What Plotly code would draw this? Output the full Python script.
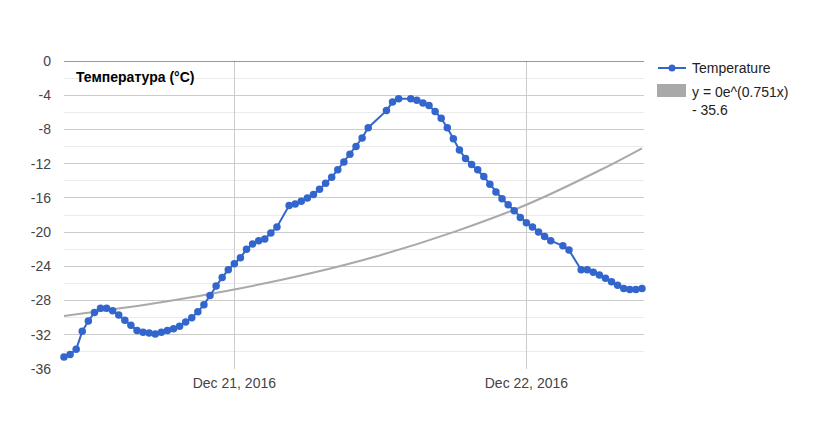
import pandas as pd
import plotly.graph_objects as go

# half-hourly readings, Dec 20 10:00 -> Dec 22 09:30 (None = no reading)
times = pd.date_range("2016-12-20 10:00", periods=96, freq="30min")
temps = [
    -34.6, -34.3, -33.7, -31.6, -30.4, -29.4, -28.9, -28.9, -29.2, -29.7,
    -30.3, -30.9, -31.5, -31.7, -31.8, -31.9, -31.7, -31.5, -31.3, -31.0,
    -30.5, -30.0, -29.3, -28.5, -27.4, -26.3, -25.3, -24.4, -23.7, -23.0,
    -22.0, -21.4, -21.0, -20.8, -20.1, -19.4, None, -16.9, -16.7, -16.4,
    -16.0, -15.6, -15.0, -14.3, -13.6, -12.7, -11.8, -10.9, -10.0, -9.0,
    -7.8, None, None, -5.8, -4.8, -4.4, None, -4.4, -4.6, -4.9,
    -5.2, -5.9, -6.7, -7.8, -9.1, -10.4, -11.4, -12.1, -12.7, -13.5,
    -14.4, -15.3, -16.1, -16.8, -17.5, -18.3, -18.9, -19.4, -20.0, -20.5,
    -21.0, None, -21.6, -22.1, None, -24.4, -24.4, -24.7, -25.0, -25.4,
    -25.8, -26.2, -26.6, -26.7, -26.7, -26.6,
]

# exponential trendline
trend_times = ["2016-12-20 10:00", "2016-12-20 18:00", "2016-12-21 00:00",
               "2016-12-21 06:00", "2016-12-21 12:00", "2016-12-21 18:00",
               "2016-12-22 00:00", "2016-12-22 06:00", "2016-12-22 09:30"]
trend_vals = [-29.8, -28.2, -26.7, -24.9, -22.7, -20.0, -16.8, -12.8, -10.2]

y_ticks = [0, -4, -8, -12, -16, -20, -24, -28, -32, -36]
y_labels = ["0", "-4", "-8", "-12", "-16", "-20", "-24", "-28", "-32", "-36"]
x_ticks = ["2016-12-21", "2016-12-22"]
x_labels = ["Dec 21, 2016", "Dec 22, 2016"]

FONT = "Liberation Sans, Arial, sans-serif"
BLUE = "#3366cc"
GREY = "#a9a9a9"

# plot area in page pixels (816 x 439 window, page has an 8px body margin)
L, R, T, B = 64, 644, 61, 369
OFF = 8


def px(x, y):
    return (x - L) / (R - L), (B - y) / (B - T)


fig = go.Figure()

fig.add_trace(go.Scatter(
    x=trend_times, y=trend_vals, mode="lines",
    line=dict(color=GREY, width=2, shape="spline"),
    hoverinfo="skip", showlegend=False,
))

fig.add_trace(go.Scatter(
    x=times, y=temps, mode="lines+markers", connectgaps=True,
    line=dict(color=BLUE, width=2),
    marker=dict(color=BLUE, size=7.5),
    cliponaxis=False,
    name="Temperature", showlegend=False,
))

fig.update_xaxes(
    type="date",
    range=[times[0], times[-1] + pd.Timedelta(minutes=10)],
    tickvals=x_ticks, ticktext=x_labels,
    showgrid=True, gridcolor="#cccccc", gridwidth=1,
    showline=False, zeroline=False, ticks="",
    ticklabelstandoff=4,
    tickfont=dict(family=FONT, size=14, color="#444444"),
)

fig.update_yaxes(
    range=[-36, 0], tickvals=y_ticks, ticktext=y_labels,
    showgrid=True, gridcolor="#cccccc", gridwidth=1,
    minor=dict(dtick=2, showgrid=True, gridcolor="#ebebeb", gridwidth=1),
    zeroline=False, showline=False, ticks="",
    ticklabelstandoff=12,
    tickfont=dict(family=FONT, size=14, color="#444444"),
)

shapes = [
    # dark baseline at 0
    dict(type="line", xref="paper", yref="y", x0=0, x1=1, y0=0, y1=0,
         line=dict(color="#333333", width=1)),
]

# legend drawn by hand
lx0, ly0 = px(658, 68)
lx1, _ = px(686, 68)
shapes.append(dict(type="line", xref="paper", yref="paper",
                   x0=lx0, x1=lx1, y0=ly0, y1=ly0,
                   line=dict(color=BLUE, width=2)))
mx, _ = px(672, 68)
mr = 3.5 / (R - L)
mry = 3.5 / (B - T)
shapes.append(dict(type="circle", xref="paper", yref="paper",
                   x0=mx - mr, x1=mx + mr, y0=ly0 - mry, y1=ly0 + mry,
                   fillcolor=BLUE, line=dict(color=BLUE, width=0)))
bx0, by0 = px(657, 97)
bx1, by1 = px(686, 84)
shapes.append(dict(type="rect", xref="paper", yref="paper",
                   x0=bx0, x1=bx1, y0=by0, y1=by1,
                   fillcolor=GREY, line=dict(width=0)))

annotations = []
tx, ty = px(690, 68)
annotations.append(dict(xref="paper", yref="paper", x=tx, y=ty,
                        text="Temperature", showarrow=False,
                        xanchor="left", yanchor="middle",
                        font=dict(family=FONT, size=14, color="#222222")))
tx, ty = px(690, 82)
annotations.append(dict(xref="paper", yref="paper", x=tx, y=ty,
                        text="y = 0e^(0.751x)<br>- 35.6", showarrow=False,
                        xanchor="left", yanchor="top", align="left",
                        font=dict(family=FONT, size=14, color="#222222")))
tx, ty = px(74, 77)
annotations.append(dict(xref="paper", yref="paper", x=tx, y=ty,
                        text="<b>Температура (°C)</b>", showarrow=False,
                        xanchor="left", yanchor="middle",
                        font=dict(family=FONT, size=14, color="#000000")))

fig.update_layout(
    width=816, height=439,
    margin=dict(l=L - OFF, r=816 + OFF - R, t=T - OFF, b=439 + OFF - B),
    paper_bgcolor="white", plot_bgcolor="white",
    shapes=shapes, annotations=annotations,
    showlegend=False,
    font=dict(family=FONT),
)

fig.write_html("out.html")
